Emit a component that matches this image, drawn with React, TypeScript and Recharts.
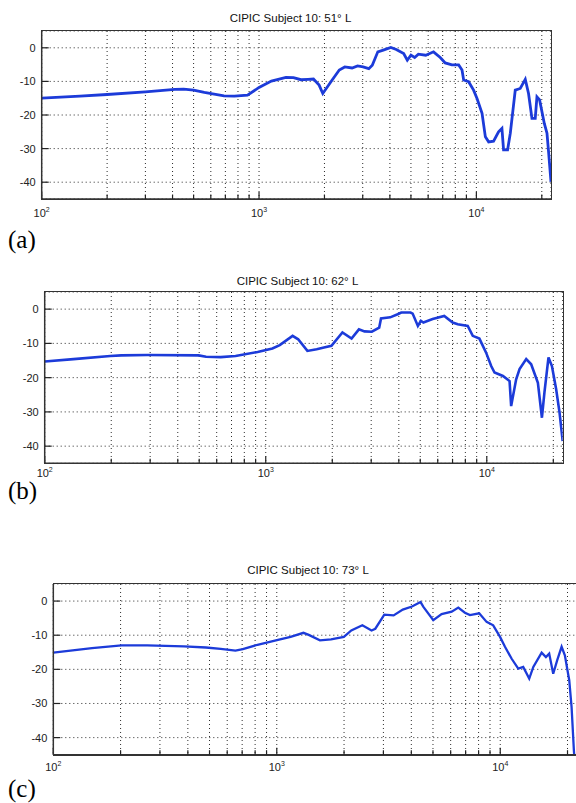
import React from 'react';
import { LineChart, Line, XAxis, YAxis, CartesianGrid } from 'recharts';

// ---------- data ----------
const freqA = [100, 150, 200, 300, 410, 450, 500, 560, 690, 770, 885, 1000, 1140, 1330, 1440, 1560, 1680, 1780, 1890, 1965, 2170, 2340, 2480, 2680, 2840, 3010, 3200, 3320, 3520, 3730, 4040, 4280, 4630, 4810, 5000, 5200, 5410, 5850, 6350, 6820, 7190, 7720, 8290, 8590, 8740, 9210, 9710, 10070, 10620, 11000, 11390, 12000, 12650, 13110, 13340, 13920, 14330, 15100, 15920, 16790, 17380, 18020, 18660, 19000, 19540, 20540, 21130, 21520, 22050];
const dbA = [-15, -14.4, -13.9, -13.1, -12.4, -12.3, -12.6, -13.3, -14.3, -14.4, -14.1, -11.8, -9.9, -8.8, -8.9, -9.5, -9.4, -9.3, -11.1, -13.6, -9.6, -6.6, -5.7, -6, -5.4, -5.7, -6.2, -5.2, -1.2, -0.7, 0.1, -0.5, -1.7, -3.7, -2.2, -2.9, -1.9, -2.2, -1.2, -2.9, -4.5, -5.1, -5.1, -6.6, -9.6, -10.1, -12.6, -15.1, -19.5, -26.5, -28, -27.8, -25, -24, -30.4, -30.4, -25.4, -12.6, -12.1, -9.4, -13.6, -21, -21, -14.6, -15.5, -22.5, -25.4, -31.4, -39.9];

const freqB = [100, 135, 198, 222, 291, 497, 537, 626, 730, 919, 1072, 1157, 1323, 1402, 1543, 1700, 1834, 1982, 2223, 2445, 2640, 2798, 3020, 3260, 3323, 3657, 3952, 4104, 4519, 4620, 4878, 5035, 5166, 5690, 6420, 7010, 7390, 8200, 8640, 9260, 9930, 10470, 10840, 11830, 12680, 12890, 13580, 14070, 15080, 15880, 17030, 17760, 18240, 19020, 19710, 20600, 21340, 22050];
const dbB = [-15.3, -14.6, -13.7, -13.5, -13.4, -13.5, -13.9, -14, -13.7, -12.5, -11.5, -10.5, -7.8, -8.8, -12.2, -11.7, -11.2, -10.7, -6.8, -8.6, -5.9, -6.5, -6.6, -5.4, -2.7, -2.4, -1.5, -1, -1, -1.3, -4.9, -3.4, -3.9, -2.9, -2, -3.9, -4.4, -4.9, -7.8, -8.6, -12.7, -16.6, -18.5, -19.5, -21, -28.3, -20.5, -17.5, -14.6, -16.1, -21.5, -31.7, -24.2, -14.1, -16.6, -23.4, -30.2, -38.5];

const freqC = [100, 149, 202, 263, 384, 482, 561, 653, 705, 820, 991, 1153, 1316, 1390, 1560, 1749, 1996, 2155, 2415, 2655, 2760, 3028, 3333, 3664, 4028, 4400, 4530, 5015, 5465, 6065, 6490, 6950, 7320, 8050, 8690, 9300, 9980, 10500, 11250, 12040, 12670, 13480, 14060, 15320, 16010, 16560, 17260, 17990, 18820, 19460, 20360, 20860, 21360, 21700];
const dbC = [-15.1, -13.8, -13, -13, -13.3, -13.6, -14, -14.5, -14.1, -12.8, -11.5, -10.5, -9.3, -9.9, -11.5, -11.2, -10.5, -8.6, -7.1, -8.6, -8.1, -4, -4.2, -2.5, -1.6, -0.3, -1.7, -5.6, -3.8, -3.1, -1.9, -3.4, -4.1, -3.6, -6.1, -7.1, -10.5, -13.4, -16.9, -19.8, -19.3, -22.7, -19.3, -15.1, -16.4, -15.4, -21.3, -17.3, -13.4, -15.9, -23.2, -31.1, -43.8, -50];

const titles = ['CIPIC Subject 10: 51° L', 'CIPIC Subject 10: 62° L', 'CIPIC Subject 10: 73° L'];
const panelLabels = ['(a)', '(b)', '(c)'];
// all x ticks (decades get a label, the rest are minor ticks + grid lines)
const xTicks = [100, 200, 300, 400, 500, 600, 700, 800, 900, 1000, 2000, 3000, 4000, 5000, 6000, 7000, 8000, 9000, 10000, 20000];
const yTicks = [-40, -30, -20, -10, 0];
const xDomain = [100, 22050];
const yDomain = [-45, 5];

// ---------- layout (page coordinates) ----------
const layouts = [
  { left: 41.7, right: 551, top: 31, bottom: 199, xLabelDy: 18, titleX: 290.5, titleBase: 22, labelBase: 248, lineW: 2.8 },
  { left: 44.7, right: 562.7, top: 291.7, bottom: 463, xLabelDy: 14, titleX: 297.5, titleBase: 285, labelBase: 499, lineW: 2.6 },
  { left: 53.3, right: 577, top: 584, bottom: 754.7, xLabelDy: 16, titleX: 308, titleBase: 573.5, labelBase: 797, lineW: 2.3 },
];

const series = [
  { f: freqA, db: dbA },
  { f: freqB, db: dbB },
  { f: freqC, db: dbC },
];

const SANS = '"Liberation Sans", Arial, Helvetica, sans-serif';
const SERIF = '"Liberation Serif", "Times New Roman", serif';
const BLUE = '#1c3bd9';
const GRID = '#2a2a2a';
const FRAME = '#333';
const TICK = '#222';
const MAJOR = 7;
const MINOR = 4.5;

const isDecade = (v: number) => Math.abs(Math.log10(v) - Math.round(Math.log10(v))) < 1e-9;

const Panel = ({ idx }: { idx: number }) => {
  const L = layouts[idx];
  const s = series[idx];
  const data = s.f.map((f, i) => ({ f, db: s.db[i] }));
  const chartTop = L.top - 6;
  const xAxisH = 30;
  const height = L.bottom - chartTop + xAxisH;
  const width = L.right + 6;

  const bottomTick = (p: any) => {
    const v = p.payload.value;
    const dec = isDecade(v);
    const len = dec ? MAJOR : MINOR;
    const e = Math.round(Math.log10(v));
    return (
      <g>
        <line x1={p.x} x2={p.x} y1={p.y} y2={p.y - len} stroke={TICK} strokeWidth={1.2} />
        {dec && (
          <text x={p.x} y={p.y + L.xLabelDy} textAnchor="middle" fontFamily={SANS} fontSize={11} fill="#222">
            10
            <tspan dy={-5} fontSize={7}>{e}</tspan>
          </text>
        )}
      </g>
    );
  };
  const topTick = (p: any) => {
    const v = p.payload.value;
    const len = isDecade(v) ? MAJOR : MINOR;
    return <line x1={p.x} x2={p.x} y1={p.y} y2={p.y + len} stroke={TICK} strokeWidth={1.2} />;
  };
  const leftTick = (p: any) => (
    <g>
      <line x1={p.x} x2={p.x + MAJOR} y1={p.y} y2={p.y} stroke={TICK} strokeWidth={1.2} />
      <text x={p.x - 6} y={p.y} dy={4} textAnchor="end" fontFamily={SANS} fontSize={11} fill="#222">
        {p.payload.value}
      </text>
    </g>
  );
  const rightTick = (p: any) => (
    <line x1={p.x} x2={p.x - MAJOR} y1={p.y} y2={p.y} stroke={TICK} strokeWidth={1.2} />
  );

  return (
    <div style={{ position: 'absolute', left: 0, top: chartTop, width, height }}>
      <LineChart
        width={width}
        height={height}
        data={data}
        margin={{ top: 6, right: 6, left: 0, bottom: 0 }}
      >
        <CartesianGrid stroke={GRID} strokeDasharray="1 3" />
        <XAxis
          dataKey="f"
          type="number"
          scale="log"
          domain={xDomain}
          ticks={xTicks}
          interval={0}
          allowDataOverflow
          height={xAxisH}
          tickLine={false}
          axisLine={{ stroke: FRAME, strokeWidth: 1.5 }}
          tickSize={0}
          tickMargin={0}
          tick={bottomTick}
        />
        <XAxis
          xAxisId="top"
          orientation="top"
          dataKey="f"
          type="number"
          scale="log"
          domain={xDomain}
          ticks={xTicks}
          interval={0}
          allowDataOverflow
          height={0}
          tickLine={false}
          axisLine={{ stroke: FRAME, strokeWidth: 1.5 }}
          tickSize={0}
          tickMargin={0}
          tick={topTick}
        />
        <YAxis
          type="number"
          domain={yDomain}
          ticks={yTicks}
          interval={0}
          allowDataOverflow
          width={L.left}
          tickLine={false}
          axisLine={{ stroke: FRAME, strokeWidth: 1.5 }}
          tickSize={0}
          tickMargin={0}
          tick={leftTick}
        />
        <YAxis
          yAxisId="right"
          orientation="right"
          type="number"
          domain={yDomain}
          ticks={yTicks}
          interval={0}
          allowDataOverflow
          width={0}
          tickLine={false}
          axisLine={{ stroke: FRAME, strokeWidth: 1.5 }}
          tickSize={0}
          tickMargin={0}
          tick={rightTick}
        />
        <Line
          type="linear"
          dataKey="db"
          stroke={BLUE}
          strokeWidth={L.lineW}
          dot={false}
          isAnimationActive={false}
        />
      </LineChart>
      {/* plot-area frame (MATLAB box) */}
      <div
        style={{
          position: 'absolute',
          left: L.left - 0.75,
          top: 6 - 0.75,
          width: L.right - L.left,
          height: L.bottom - L.top,
          border: `1.5px solid ${FRAME}`,
          pointerEvents: 'none',
        }}
      />
    </div>
  );
};

export default function App() {
  return (
    <div style={{ position: 'absolute', left: 0, top: 0, width: 576, height: 803, overflow: 'hidden', background: '#fff' }}>
      {layouts.map((L, i) => (
        <React.Fragment key={i}>
          <Panel idx={i} />
          <div
            style={{
              position: 'absolute',
              left: L.titleX - 150,
              width: 300,
              top: L.titleBase - 10,
              lineHeight: '12px',
              fontSize: 11.5,
              fontFamily: SANS,
              textAlign: 'center',
              color: '#111',
              whiteSpace: 'nowrap',
            }}
          >
            {titles[i]}
          </div>
          <div
            style={{
              position: 'absolute',
              left: 8,
              top: L.labelBase - 21,
              lineHeight: '25px',
              fontSize: 25,
              fontFamily: SERIF,
              color: '#000',
            }}
          >
            {panelLabels[i]}
          </div>
        </React.Fragment>
      ))}
    </div>
  );
}
